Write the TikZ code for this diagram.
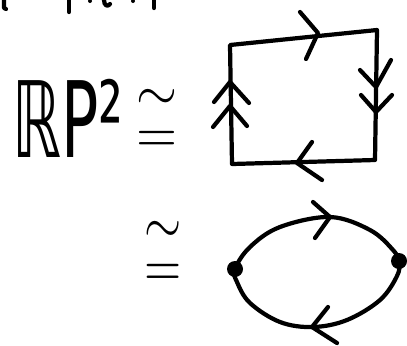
\documentclass[tikz,border=0pt]{standalone}
\usepackage{fontspec}
\newfontfamily\dejavu{DejaVu Sans}

\begin{document}
\begin{tikzpicture}[x=0.025cm, y=-0.025cm,
    pen/.style={line width=3pt, line cap=round, line join=round},
    hand/.style={inner sep=0pt, outer sep=0pt, font=\dejavu},
    iso/.style={inner sep=0pt, outer sep=0pt, align=center}]
  \useasboundingbox (0,0) rectangle (407,345);
  % Cut-off strokes of the line above
  \draw[pen] (4,0) -- (4,8) -- (6,9);
  \draw[pen] (69,0) -- (69,12);
  \fill (90,1) circle[radius=0.05cm];
  \draw[pen] (104,0) .. controls (104,6) and (108,7) .. (110,4);
  \fill (133,1) circle[radius=0.05cm];
  \draw[pen] (154,0) -- (154,8);
  % RP^2 and the two isomorphism signs
  \node[hand, anchor=base west, xscale=4.4, yscale=7.5] (rp) at (12,157) {ℝP²};
  \node[iso, xscale=3.75, yscale=4.1] (iso1) at (157,121)
    {\shortstack{$\sim$\\[0.5pt]$=$}};
  \node[iso, xscale=3.4, yscale=4.3] (iso2) at (163,254)
    {\shortstack{$\sim$\\[0.5pt]$=$}};
  % Square with its edges identified
  \draw[pen] (230,45) -- (377,30) -- (375,160) -- (232,164) -- cycle;
  \draw[pen] (300,12) -- (318,33) -- (306,59);
  \draw[pen] (360,70) -- (376,87) -- (391,60);
  \draw[pen] (361,95) -- (376,112) -- (392,95);
  \draw[pen] (214,102) -- (230,82) -- (249,103);
  \draw[pen] (213,127) -- (230,106) -- (247,126);
  \draw[pen] (312,142) -- (297,163) -- (322,180);
  % Lens with two marked points
  \draw[pen] plot[smooth cycle, tension=0.6] coordinates {
    (235,269) (250,247) (280,227) (330,217) (370,230) (393,250) (399,262)
    (397,276) (380,300) (347,320) (313,327) (280,322) (250,303) (237,282)};
  \draw[pen] (313,202) -- (330,217) -- (315,238);
  \draw[pen] (328,307) -- (312,327) -- (337,343);
  \fill (235,269) circle[radius=0.2cm];
  \fill (399,261) circle[radius=0.2cm];
\end{tikzpicture}
\end{document}
